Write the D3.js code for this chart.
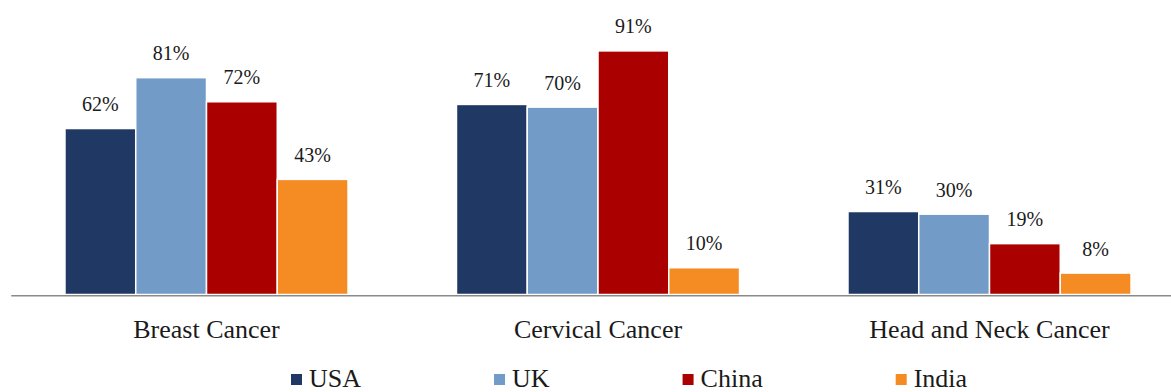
<!DOCTYPE html>
<html>
<head>
<meta charset="utf-8">
<script src="https://cdn.jsdelivr.net/npm/d3@7"></script>
<style>
  html, body { margin: 0; padding: 0; background: #fff; }
  svg { display: block; }
</style>
</head>
<body>
<div id="chart"></div>
<script>
// data
const categories = ["Breast Cancer", "Cervical Cancer", "Head and Neck Cancer"];
const countries = ["USA", "UK", "China", "India"];
const usaValues = [62, 71, 31];
const ukValues = [81, 70, 30];
const chinaValues = [72, 91, 19];
const indiaValues = [43, 10, 8];
const colors = ["#203864", "#739bc8", "#ab0000", "#f48b23"];

const seriesValues = [usaValues, ukValues, chinaValues, indiaValues];

const width = 1171, height = 392;

const svg = d3.select("#chart")
    .append("svg")
    .attr("width", width)
    .attr("height", height)
    .attr("font-family", "Liberation Serif");

// group scale (the plot runs a little past the right edge of the picture)
const x0 = d3.scaleBand()
    .domain(categories)
    .range([10.75, 1185.25])
    .paddingInner(0.277)
    .paddingOuter(0.1385);

const x1 = d3.scaleBand()
    .domain(countries)
    .range([0, x0.bandwidth()]);

const y = d3.scaleLinear()
    .domain([0, 100])
    .range([294.5, 26.8]);

// flatten to one row per bar
let rows = [];
categories.forEach((c, i) => {
    countries.forEach((k, j) => {
        rows.push({cat: c, country: k, value: seriesValues[j][i], color: colors[j]});
    });
});

svg.selectAll("rect.bar")
    .data(rows)
    .enter()
    .append("rect")
    .attr("class", "bar")
    .attr("x", d => x0(d.cat) + x1(d.country))
    .attr("y", d => y(d.value))
    .attr("width", x1.bandwidth())
    .attr("height", d => y(0) - y(d.value))
    .attr("fill", d => d.color)
    .attr("stroke", "white")
    .attr("stroke-width", 1.5);

// value labels
svg.selectAll("text.val")
    .data(rows)
    .enter()
    .append("text")
    .attr("class", "val")
    .attr("x", d => x0(d.cat) + x1(d.country) + x1.bandwidth() / 2)
    .attr("y", d => y(d.value) - 17.5)
    .attr("text-anchor", "middle")
    .attr("font-family", "Liberation Serif")
    .attr("font-size", 20)
    .attr("fill", "#1a1a1a")
    .text(d => d.value + "%");

// baseline axis
const xAxis = svg.append("g")
    .attr("transform", `translate(0, ${y(0) + 0.8})`)
    .call(d3.axisBottom(x0).tickSize(0).tickPadding(24))
    .attr("font-family", "Liberation Serif")
    .attr("font-size", 26);

xAxis.select(".domain")
    .attr("stroke", "#8a8a8a")
    .attr("stroke-width", 1.6);

xAxis.selectAll("text")
    .attr("fill", "#1a1a1a");

// legend: square, label, then a fixed gap to the next item
const legend = svg.append("g")
    .attr("class", "legend")
    .attr("font-family", "Liberation Serif")
    .attr("font-size", 26);

const items = legend.selectAll("g.item")
    .data(countries)
    .enter()
    .append("g")
    .attr("class", "item");

items.append("rect")
    .attr("x", 0)
    .attr("y", 374)
    .attr("width", 11)
    .attr("height", 11)
    .attr("fill", (d, j) => colors[j]);

items.append("text")
    .attr("x", 18)
    .attr("y", 386.5)
    .attr("fill", "#1a1a1a")
    .text(d => d);

function placeLegend() {
    let lx = 291;
    items.each(function () {
        const g = d3.select(this);
        g.attr("transform", `translate(${lx}, 0)`);
        lx += 18 + g.select("text").node().getComputedTextLength() + 133;
    });
}
document.fonts.ready.then(placeLegend);
</script>
</body>
</html>
